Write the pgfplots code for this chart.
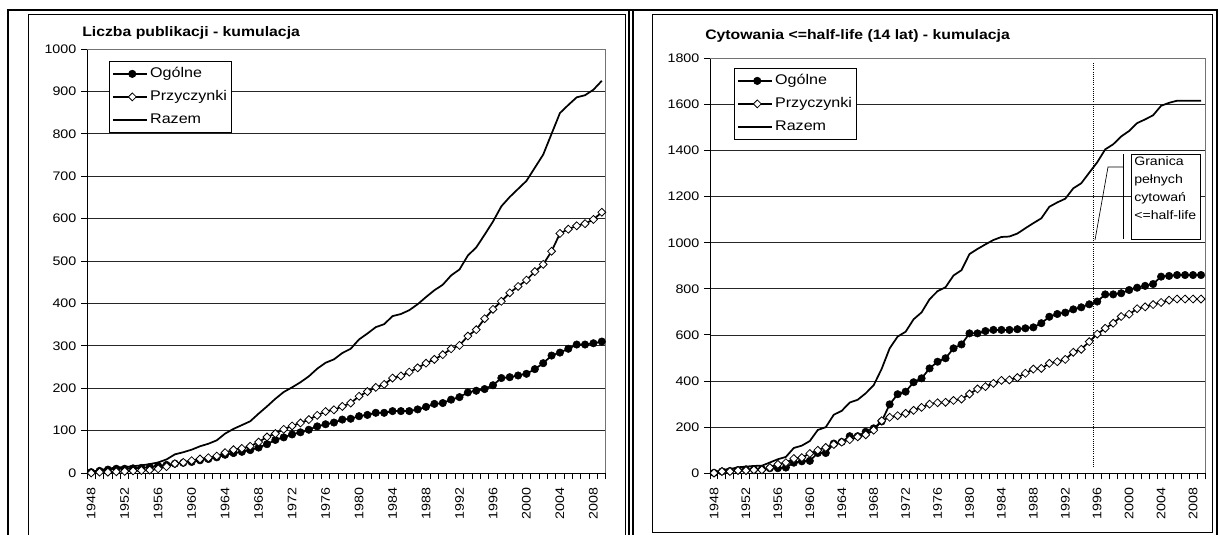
\documentclass[border=0pt]{standalone}
\usepackage{pgfplots}
\usepackage{pgfplotstable}
\pgfplotsset{compat=1.18}
\usepackage{fontspec}
\setmainfont{Liberation Sans}[FakeStretch=1.15]

\pgfplotstableread{
year og prz raz
1948 2 0 2
1949 5 2 7
1950 8 2 10
1951 10 3 13
1952 10 4 14
1953 11 5 16
1954 12 6 18
1955 14 7 21
1956 17 10 25
1957 19 15 32
1958 22 22 44
1959 24 25 49
1960 26 29 55
1961 30 33 63
1962 33 36 69
1963 37 40 77
1964 43 48 93
1965 47 55 104
1966 50 58 113
1967 54 63 122
1968 60 73 140
1969 68 85 157
1970 78 93 175
1971 84 103 191
1972 91 111 202
1973 96 118 214
1974 102 126 228
1975 110 136 246
1976 115 145 260
1977 119 149 268
1978 126 157 283
1979 128 165 293
1980 134 181 315
1981 137 192 329
1982 142 202 344
1983 142 209 351
1984 146 224 370
1985 146 229 375
1986 146 238 384
1987 150 248 398
1988 156 259 415
1989 163 268 431
1990 165 279 444
1991 173 293 466
1992 179 301 480
1993 190 323 513
1994 194 338 532
1995 198 364 562
1996 207 386 593
1997 224 405 629
1998 226 425 651
1999 230 440 670
2000 234 455 689
2001 245 475 720
2002 259 492 751
2003 277 523 800
2004 284 565 849
2005 293 575 868
2006 303 583 886
2007 303 588 891
2008 306 598 904
2009 310 615 925
}\lefttab

\pgfplotstableread{
year og prz raz
1948 2 1 3
1949 8 8 16
1950 10 8 18
1951 14 12 26
1952 17 12 29
1953 17 15 32
1954 18 15 33
1955 22 25 47
1956 22 39 61
1957 25 46 71
1958 46 64 110
1959 52 68 120
1960 54 86 140
1961 88 100 188
1962 88 112 200
1963 129 125 254
1964 136 135 271
1965 161 146 307
1966 161 158 319
1967 180 167 347
1968 195 187 382
1969 225 228 453
1970 299 243 542
1971 343 250 593
1972 354 260 614
1973 395 273 668
1974 412 286 698
1975 455 300 755
1976 484 306 790
1977 499 308 807
1978 542 316 858
1979 559 322 881
1980 607 344 951
1981 607 366 973
1982 617 376 993
1983 622 390 1012
1984 622 403 1025
1985 622 405 1027
1986 625 415 1040
1987 629 434 1063
1988 633 452 1085
1989 651 455 1106
1990 679 477 1156
1991 691 484 1175
1992 697 494 1191
1993 711 525 1236
1994 720 538 1258
1995 733 571 1304
1996 745 604 1349
1997 776 629 1405
1998 776 651 1427
1999 781 680 1461
2000 795 690 1485
2001 805 714 1519
2002 813 722 1535
2003 821 732 1553
2004 853 741 1594
2005 856 751 1607
2006 860 756 1616
2007 860 756 1616
2008 860 756 1616
2009 860 756 1616
}\righttab

\pgfplotsset{
  mychart/.style={
    scale only axis, anchor=south west, clip=false,
    xmin=1947.5, xmax=2009.5, ymin=0,
    axis x line*=bottom, axis y line*=left,
    axis line style={black, line width=0.75pt},
    tick align=outside, major tick length=4.5pt,
    tick style={black, line width=0.75pt},
    xtick={1947.5,1948.5,...,2009.5},
    xticklabels={},
    extra x ticks={1948,1952,...,2008},
    extra x tick style={major tick length=0pt},
    xticklabel style={rotate=90, anchor=east, xshift=-7.5pt},
    ticklabel style={font=\fontsize{9.3}{11}\selectfont},
    /pgf/number format/.cd, 1000 sep={}, assume math mode=true, /pgfplots/.cd,
    ymajorgrids, major grid style={black!85, line width=0.6pt},
    legend cell align=left,
    legend image code/.code={
      \path (0pt,0pt) -- (25.75pt,0pt);
      \draw[mark repeat=2,mark phase=2,##1] plot coordinates {(3.25pt,0pt) (14.5pt,0pt) (25.75pt,0pt)};
    },
    legend style={draw=black, line width=0.6pt, fill=white,
      font=\fontsize{10.5}{12}\selectfont, inner xsep=2pt, inner ysep=2.6pt,
      row sep=3.75pt, nodes={inner sep=1.5pt, text height=8pt, text depth=2.5pt}, anchor=north west},
  },
  ogs/.style={black, line width=1.3pt, mark=*, mark size=2.8pt, mark options={solid, fill=black, line width=0.4pt}},
  prs/.style={black, line width=1.3pt, mark=square*, mark options={solid, fill=white, rotate=45, mark size=2.1pt, line width=0.6pt}},
  ras/.style={black, line width=1.3pt, no markers},
}

\begin{document}
\begin{tikzpicture}[x=0.75pt,y=-0.75pt]
\path[use as bounding box] (0,0) rectangle (1220,535);

% table frame
\draw[line width=1.5pt] (8,535) -- (8,10) -- (1217,10) -- (1217,535);
\draw[line width=1pt] (629,10) -- (629,535);
\draw[line width=1pt] (633,10) -- (633,535);
% chart areas
\draw[line width=0.75pt] (28,535) -- (28,15) -- (625,15) -- (625,535);
\draw[line width=0.75pt] (652,15) rectangle (1212,532);

% titles
\node[anchor=west, font=\bfseries\fontsize{10.3}{12}\selectfont, inner sep=0pt] at (82,33) {Liczba publikacji - kumulacja};
\node[anchor=west, font=\bfseries\fontsize{10.3}{12}\selectfont, inner sep=0pt] at (705,36) {Cytowania <=half-life (14 lat) - kumulacja};

% left chart
\begin{axis}[mychart,
  at={(65.25pt,-354.75pt)}, width=389.25pt, height=318pt,
  ymax=1000, ytick={0,100,...,1000},
  legend style={at={(0.0424,0.9717)}},
]
\draw[black!55, line width=0.75pt] (rel axis cs:0,1) -- (rel axis cs:1,1) -- (rel axis cs:1,0);
\addplot[ogs] table[x=year, y=og] {\lefttab};
\addlegendentry{Ogólne}
\addplot[prs] table[x=year, y=prz] {\lefttab};
\addlegendentry{Przyczynki}
\addplot[ras] table[x=year, y=raz] {\lefttab};
\addlegendentry{Razem}
\end{axis}

% right chart
\begin{axis}[mychart,
  at={(532.5pt,-354.975pt)}, width=371.25pt, height=311.25pt,
  ymax=1800, ytick={0,200,...,1800},
  legend style={at={(0.0485,0.9766)}},
]
\draw[black!55, line width=0.75pt] (rel axis cs:0,1) -- (rel axis cs:1,1) -- (rel axis cs:1,0);
\draw[black, densely dotted, line width=0.6pt] (axis cs:1995.5,27) -- (axis cs:1995.5,1780);
\addplot[ogs] table[x=year, y=og] {\righttab};
\addlegendentry{Ogólne}
\addplot[prs] table[x=year, y=prz] {\righttab};
\addlegendentry{Przyczynki}
\addplot[ras] table[x=year, y=raz] {\righttab};
\addlegendentry{Razem}
\end{axis}

% callout
\draw[black, line width=0.5pt] (1095,240) -- (1108,167) -- (1123,167);
\draw[black, line width=0.5pt] (1123,154) -- (1123,239);
\draw[black, line width=0.5pt, fill=white] (1131,154) rectangle (1200,239);
\node[anchor=north west, inner sep=0pt, align=left, font=\fontsize{9.2}{13.7}\selectfont] at (1134,156) {Granica\\pełnych\\cytowań\\<=half-life};
\end{tikzpicture}
\end{document}
